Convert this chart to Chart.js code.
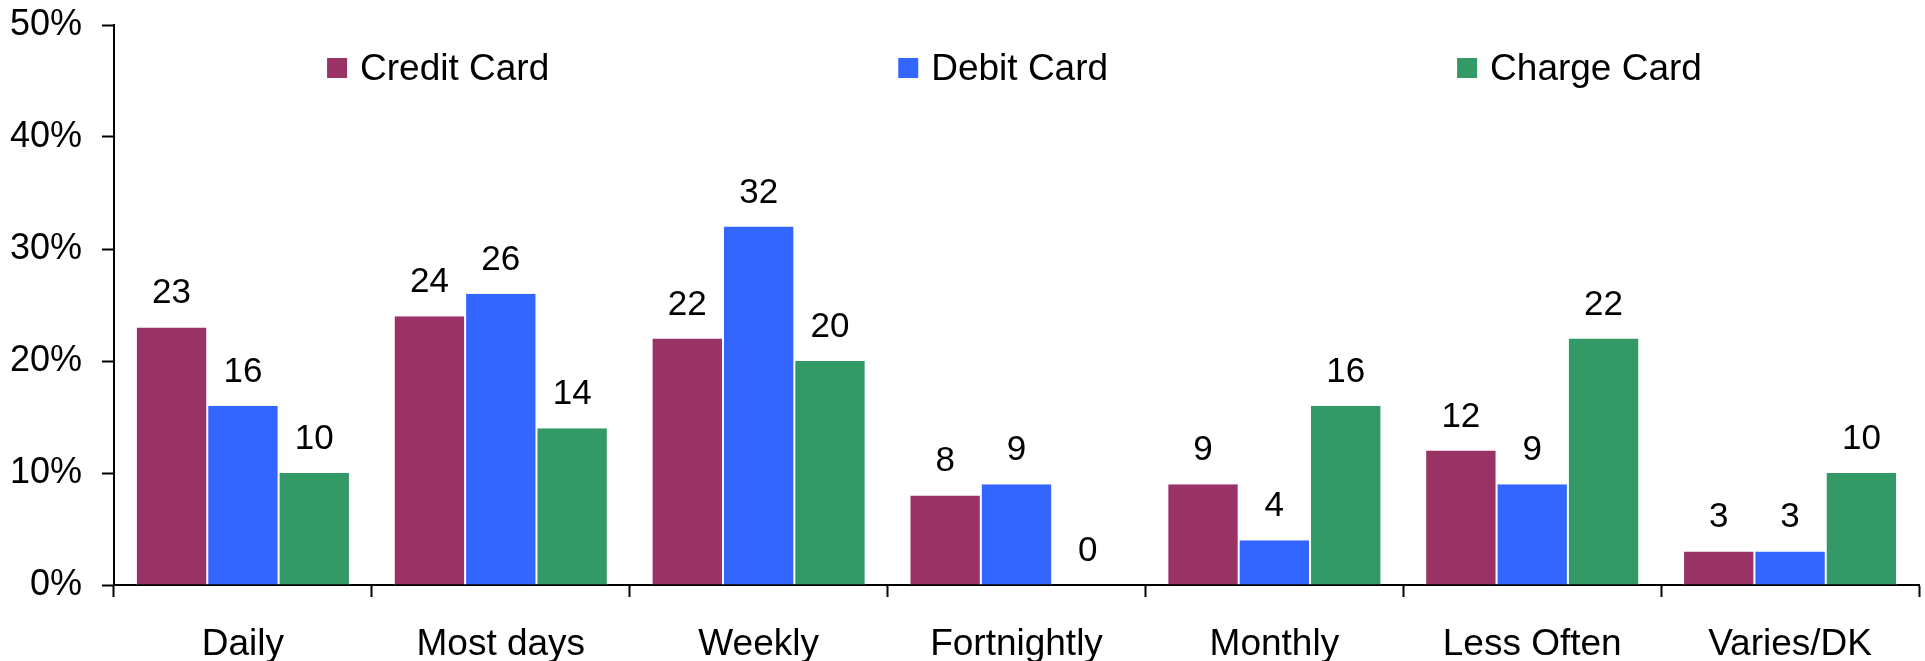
<!DOCTYPE html>
<html>
<head>
<meta charset="utf-8">
<script src="https://cdn.jsdelivr.net/npm/chart.js@4.4.1/dist/chart.umd.min.js"></script>
<style>
  body { margin: 0; background: #fff; }
  #wrap { width: 1925px; height: 661px; }
</style>
</head>
<body>
<div id="wrap"><canvas id="myChart" width="1925" height="661"></canvas></div>
<script>
// dati
const categorie = ['Daily', 'Most days', 'Weekly', 'Fortnightly', 'Monthly', 'Less Often', 'Varies/DK'];
const creditCard = [23, 24, 22, 8, 9, 12, 3];
const debitCard = [16, 26, 32, 9, 4, 9, 3];
const chargeCard = [10, 14, 20, 0, 16, 22, 10];

const FONT = '"Liberation Sans", Arial, sans-serif';

// etichette sopra le barre
const etichette = {
    id: 'etichette',
    afterDatasetsDraw(chart) {
        const ctx = chart.ctx;
        ctx.save();
        ctx.font = '35px ' + FONT;
        ctx.fillStyle = '#000';
        ctx.textAlign = 'center';
        ctx.textBaseline = 'alphabetic';
        chart.data.datasets.forEach((ds, i) => {
            chart.getDatasetMeta(i).data.forEach((bar, j) => {
                ctx.fillText(String(ds.data[j]), bar.x, bar.y - 24);
            });
        });
        ctx.restore();
    }
};

// legenda disegnata a mano dentro l'area del grafico
const legenda = {
    id: 'legenda',
    afterDraw(chart) {
        const ctx = chart.ctx;
        const area = chart.chartArea;
        const box = 20, gapTesto = 13, gapVoci = 349, yc = 68;
        ctx.save();
        ctx.font = '37px ' + FONT;
        const larghezze = chart.data.datasets.map(ds => box + gapTesto + ctx.measureText(ds.label).width);
        const totale = larghezze.reduce((a, b) => a + b, 0) + gapVoci * (larghezze.length - 1);
        let x = (area.left + area.right) / 2 - totale / 2 - 2;
        chart.data.datasets.forEach((ds, i) => {
            ctx.fillStyle = ds.backgroundColor;
            ctx.fillRect(x, yc - box / 2, box, box);
            ctx.fillStyle = '#000';
            ctx.textAlign = 'left';
            ctx.textBaseline = 'middle';
            ctx.fillText(ds.label, x + box + gapTesto, yc + 2);
            x += larghezze[i] + gapVoci;
        });
        ctx.restore();
    }
};

const ctx = document.getElementById('myChart').getContext('2d');
const chart = new Chart(ctx, {
    type: 'bar',
    data: {
        labels: categorie,
        datasets: [
            { label: 'Credit Card', data: creditCard, backgroundColor: '#993366' },
            { label: 'Debit Card', data: debitCard, backgroundColor: '#3366FF' },
            { label: 'Charge Card', data: chargeCard, backgroundColor: '#339966' }
        ].map(d => Object.assign(d, {
            borderColor: '#ffffff',
            borderWidth: { left: 1, right: 1, top: 0, bottom: 0 },
            borderSkipped: 'bottom',
            categoryPercentage: 0.83,
            barPercentage: 1.0
        }))
    },
    options: {
        responsive: false,
        animation: false,
        layout: { padding: { top: 25, right: 6, left: 0, bottom: 0 } },
        plugins: {
            legend: { display: false },
            tooltip: { enabled: false }
        },
        scales: {
            x: {
                grid: { drawOnChartArea: false, drawTicks: true, tickLength: 12, tickWidth: 2, color: '#000', offset: true },
                border: { display: true, color: '#000', width: 2 },
                ticks: { color: '#000', padding: 26, font: { family: FONT, size: 37 }, maxRotation: 0 },
                afterFit(scale) { scale.height = 76; scale.paddingLeft = 0; scale.paddingRight = 0; }
            },
            y: {
                min: 0,
                max: 50,
                grid: { drawOnChartArea: false, drawTicks: true, tickLength: 12, tickWidth: 2, color: '#000' },
                border: { display: true, color: '#000', width: 2 },
                ticks: {
                    stepSize: 10,
                    color: '#000',
                    padding: 20,
                    font: { family: FONT, size: 36 },
                    callback: v => v + '%'
                },
                afterFit(scale) { scale.width = 114; scale.paddingTop = 0; scale.paddingBottom = 0; }
            }
        }
    },
    plugins: [etichette, legenda]
});
</script>
</body>
</html>
